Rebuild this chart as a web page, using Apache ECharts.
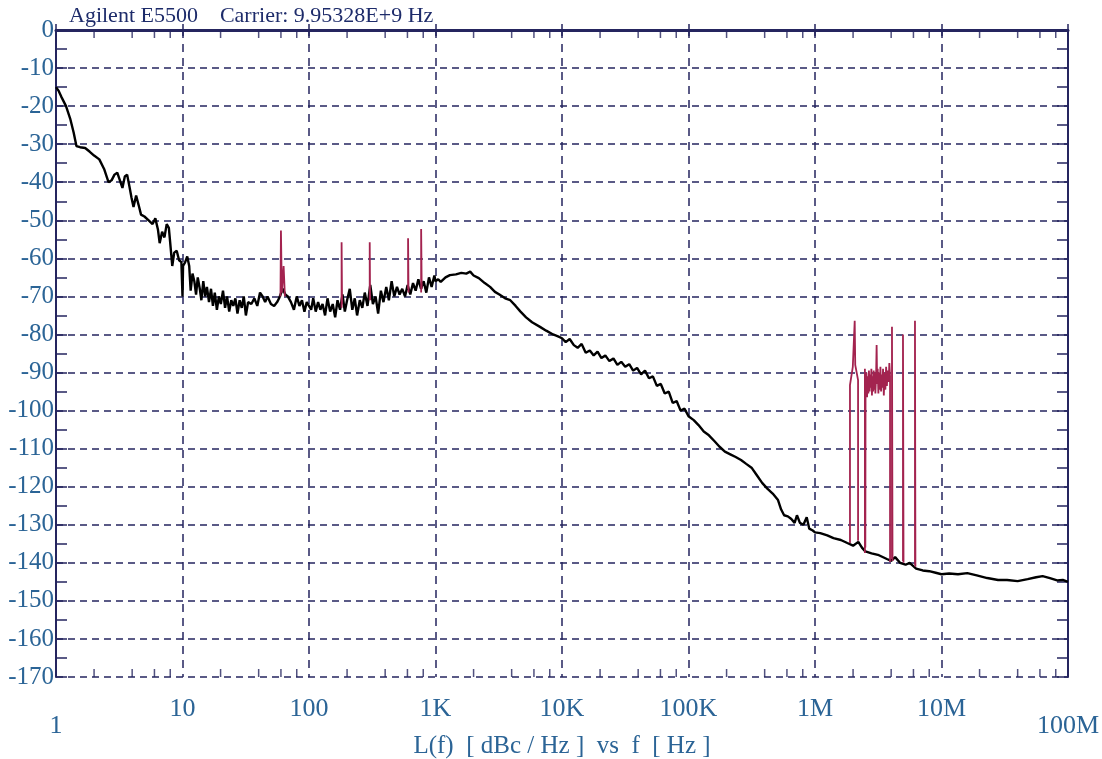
<!DOCTYPE html>
<html>
<head>
<meta charset="utf-8">
<title>Agilent E5500 phase noise</title>
<script src="https://cdn.jsdelivr.net/npm/echarts@6/dist/echarts.min.js"></script>
<style>
  html, body { margin: 0; padding: 0; background: #fff; }
  #chart { width: 1102px; height: 759px; }
</style>
</head>
<body>
<div id="chart"></div>
<script>
// tick labels for the log frequency axis (1 Hz ... 100 MHz)
const xTickLabels = ['1', '10', '100', '1K', '10K', '100K', '1M', '10M', '100M'];
const minorMantissa = [2, 4, 6, 8];

// measured phase noise, L(f) in dBc/Hz
const noiseFreqHz = [
  1, 1.05, 1.1, 1.2, 1.3, 1.38, 1.45, 1.55, 1.7, 1.85, 2.0, 2.2, 2.4, 2.6, 2.75, 2.9, 3.05, 3.2, 3.35, 3.5,
  3.65, 3.8, 3.95, 4.1, 4.3, 4.5, 4.7, 5.0, 5.4, 5.8, 6.1, 6.4, 6.6, 6.9, 7.2, 7.5, 7.8, 8.0, 8.3, 8.6,
  9.0, 9.4, 9.8, 10.0, 10.1, 10.5, 10.9, 11.3, 11.6, 12.0, 12.4, 12.8, 13.2, 13.7, 14.1, 14.6, 15.1, 15.6, 16.2, 16.8,
  17.4, 18.0, 18.7, 19.4, 20.1, 20.9, 21.7, 22.5, 23.4, 24.3, 25.2, 26.2, 27.2, 28.3, 29.4, 30.5, 31.7, 33, 35, 37,
  39, 41, 43, 45, 47, 50, 53, 56, 58, 62, 65, 68, 72, 76, 80, 84, 88, 92, 96, 100,
  104, 108, 113, 118, 123, 128, 134, 140, 147, 154, 161, 168, 176, 184, 192, 200, 210, 220, 230, 240,
  252, 264, 276, 290, 305, 320, 336, 352, 370, 388, 408, 428, 450, 472, 496, 520, 546, 574, 602, 632,
  664, 697, 732, 768, 806, 846, 888, 932, 980, 1000, 1050, 1100, 1200, 1300, 1450, 1600, 1750, 1880, 2000, 2200,
  2450, 2700, 2950, 3200, 3550, 3900, 4300, 4700, 5200, 5800, 6700, 7500, 8500, 9300, 10000, 10700, 11500, 12400, 13300, 14300,
  15400, 16600, 17800, 19100, 20500, 22000, 23700, 25500, 27400, 29400, 31600, 34000, 36500, 39200, 42200, 45300, 48700, 52300, 56200, 60400,
  64900, 69800, 75000, 80600, 86600, 93100, 100000, 110000, 120000, 132000, 145000, 160000, 176000, 194000, 214000, 236000, 260000, 286000, 315000, 347000,
  382000, 420000, 463000, 510000, 540000, 570000, 610000, 650000, 690000, 720000, 760000, 810000, 860000, 900000, 960000, 1000000, 1100000, 1250000, 1400000, 1600000,
  1800000, 2000000, 2200000, 2350000, 2500000, 2800000, 3200000, 3700000, 4000000, 4300000, 4700000, 5200000, 5600000, 6300000, 7100000, 8000000, 9000000, 10000000, 11500000, 13500000,
  16000000, 19000000, 23000000, 28000000, 33000000, 40000000, 48000000, 56000000, 63000000, 72000000, 82000000, 91000000, 100000000
];
const noiseDbc = [
  -15, -16, -17.5, -20, -23.5, -27, -30.5, -30.8, -31, -32, -33, -34, -36.5, -40, -39.5, -38, -37.5, -39.5, -41.5, -38.5,
  -38, -41, -44, -46.5, -43.5, -46, -48.5, -49, -50, -51, -49.5, -52.5, -56, -53, -54.5, -51, -52, -56, -62, -58.5,
  -58, -60.5, -61, -70, -62, -61, -59.5, -62, -68.5, -64, -66, -69.5, -65, -68, -71, -66, -70, -67.5, -71.5, -68,
  -72.5, -69, -73.5, -70, -72, -68.5, -73, -70, -74, -71, -72.5, -70.5, -74.5, -71, -73, -70, -75, -71.5, -72, -70.5,
  -72.5, -69, -70, -71.5, -70, -72, -72.5, -71.5, -70.5, -68, -69.5, -70, -71.5, -73.5, -70, -72.5, -71, -74, -71.5, -72.5,
  -73.5, -70.5, -74, -71.5, -73.5, -72, -75, -70.5, -74, -72, -75.5, -71, -73.5, -69.5, -74, -71, -68, -73.5, -70.5, -75,
  -71, -73, -69, -72.5, -67, -72, -70, -74.5, -68.5, -71.5, -67.5, -71, -66, -70, -67.5, -69.5, -68, -70, -67, -69.5,
  -66.5, -68.5, -65.5, -68, -66, -69, -65, -67.5, -64.5, -66, -65.5, -66.2, -65, -64.4, -64.2, -63.8, -64, -63.5, -64.5, -65.2,
  -66.5, -67.5, -68.8, -69.5, -70.5, -71, -72.5, -74, -75.5, -76.8, -78, -79, -80, -80.5, -81, -82, -81.2, -82.8, -83.5, -82.5,
  -84.8, -84.2, -85.5, -84.5, -86.2, -85.5, -87, -86.3, -88, -87.2, -88.5, -87.8, -89.5, -88.8, -90.5, -89.5, -91.5, -91, -93.5, -93,
  -95.5, -95, -98, -97.5, -100, -99.5, -101.5, -102.5, -103.8, -105.5, -106.5, -108, -109.5, -110.8, -111.5, -112.2, -113, -114, -115, -117,
  -119, -120.5, -121.8, -123.5, -126, -127.5, -127.8, -128.5, -129.5, -127.5, -129.5, -130, -128, -131, -131.5, -132, -132.2, -132.8, -133.5, -134,
  -134.8, -135.5, -134.5, -136, -137, -137.5, -138, -139, -139.5, -138.5, -140, -140.5, -140, -141.5, -142, -142.2, -142.6, -143, -142.8, -143,
  -142.7, -143.3, -144, -144.5, -144.5, -144.8, -144.3, -143.8, -143.5, -144, -144.6, -144.5, -145
];

// spurious lines, each group as [freq Hz, dBc] pairs
const spur60Hz = [[59.5, -70], [60, -52.7], [61, -69], [63, -62], [64.5, -70]];
const spur180Hz = [[181, -73], [181, -55.8], [182.5, -72]];
const spur300Hz = [[302, -71], [302, -55.8], [304, -71]];
const spur600Hz = [[607, -68], [607, -54.7], [612, -69]];
const spur770Hz = [[770, -69], [770, -52.3], [778, -68]];
const spur2MHz = [
  [1890000, -134.8], [1890000, -93.3], [1950000, -93], [1990000, -88.5], [2040000, -89], [2060000, -76.4],
  [2080000, -88], [2140000, -88.5], [2190000, -92], [2190000, -134.2]
];
const spurBand = [
  [2480000, -137.4], [2480000, -89], [2500000, -136], [2510000, -92], [2530000, -95], [2550000, -90],
  [2580000, -96.5], [2610000, -91], [2640000, -95.5], [2670000, -89.5], [2700000, -95], [2730000, -90.5],
  [2760000, -94], [2790000, -89], [2820000, -96], [2850000, -91], [2880000, -95], [2910000, -89.5],
  [2940000, -94.5], [2970000, -90], [3000000, -95.5], [3040000, -91], [3070000, -82.8], [3100000, -93],
  [3130000, -89], [3170000, -95.5], [3210000, -90], [3250000, -94.5], [3290000, -88.5], [3330000, -95],
  [3370000, -90.5], [3410000, -94], [3450000, -89], [3500000, -96], [3550000, -90], [3600000, -94.5],
  [3650000, -88.5], [3700000, -93.5], [3760000, -89.5], [3820000, -92.5], [3870000, -87.5], [3920000, -91],
  [3920000, -139.8]
];
const spur4MHz = [[4060000, -139], [4060000, -78], [4100000, -139.5]];
const spur5MHz = [[4960000, -139.5], [4960000, -80], [5010000, -140]];
const spur6MHz = [[6170000, -140.5], [6170000, -76.4], [6220000, -141]];
const spurGroups = [spur60Hz, spur180Hz, spur300Hz, spur600Hz, spur770Hz, spur2MHz, spurBand, spur4MHz, spur5MHz, spur6MHz];

const NAVY = '#25255f';
const LABEL_BLUE = '#2b6496';
const SERIF = '"Liberation Serif", "DejaVu Serif", serif';

const noiseData = noiseFreqHz.map((f, i) => [f, noiseDbc[i]]);

// log minor ticks at 2,4,6,8 of every decade
const minorBottom = [];
const minorTop = [];
for (let d = 0; d < 8; d++) {
  minorMantissa.forEach(m => {
    minorBottom.push([m * Math.pow(10, d), -170]);
    minorTop.push([m * Math.pow(10, d), 0]);
  });
}

const tickText = v => xTickLabels[Math.round(Math.log10(v))] || '';

const chart = echarts.init(document.getElementById('chart'));

const spurSeries = spurGroups.map(g => ({
  type: 'line',
  data: g,
  showSymbol: false,
  symbol: 'none',
  silent: true,
  lineStyle: { color: '#a3234f', width: 1.8 },
  z: 4
}));

const option = {
  animation: false,
  backgroundColor: '#ffffff',
  title: {
    text: 'Agilent E5500    Carrier: 9.95328E+9 Hz',
    left: 64,
    top: 0,
    textStyle: { fontFamily: SERIF, fontSize: 22, fontWeight: 'normal', color: '#1d2b6a' }
  },
  grid: { left: 56, right: 34, top: 30, bottom: 82, outerBoundsMode: 'none' },
  xAxis: [
    {
      type: 'log',
      logBase: 10,
      min: 1,
      max: 100000000,
      position: 'bottom',
      name: 'L(f)  [ dBc / Hz ]  vs  f  [ Hz ]',
      nameLocation: 'middle',
      nameGap: 57,
      nameTextStyle: { fontFamily: SERIF, fontSize: 25, color: LABEL_BLUE },
      axisLine: { lineStyle: { color: NAVY, width: 3 } },
      axisTick: { show: true, inside: true, length: 6, lineStyle: { color: NAVY, width: 1.5 } },
      axisLabel: {
        interval: 0,
        margin: 19,
        fontFamily: SERIF,
        fontSize: 26,
        color: LABEL_BLUE,
        formatter: v => {
          const i = Math.round(Math.log10(v));
          return (i === 0 || i === 8) ? '' : tickText(v);
        }
      },
      splitLine: { show: true, lineStyle: { color: NAVY, width: 1.5, type: [8, 6] } }
    },
    {
      type: 'log',
      logBase: 10,
      min: 1,
      max: 100000000,
      position: 'top',
      axisLine: { lineStyle: { color: NAVY, width: 2 } },
      axisTick: { show: true, inside: true, length: 6, lineStyle: { color: NAVY, width: 1.5 } },
      axisLabel: { show: false },
      splitLine: { show: false }
    },
    {
      type: 'log',
      logBase: 10,
      min: 1,
      max: 100000000,
      position: 'bottom',
      axisLine: { show: false },
      axisTick: { show: false },
      splitLine: { show: false },
      axisLabel: {
        interval: 0,
        showMinLabel: true,
        showMaxLabel: true,
        margin: 36,
        fontFamily: SERIF,
        fontSize: 26,
        color: LABEL_BLUE,
        formatter: v => {
          const i = Math.round(Math.log10(v));
          return (i === 0 || i === 8) ? tickText(v) : '';
        }
      }
    }
  ],
  yAxis: [
    {
      type: 'value',
      min: -170,
      max: 0,
      interval: 10,
      position: 'left',
      axisLine: { show: true, lineStyle: { color: NAVY, width: 2 } },
      axisTick: { show: true, inside: true, length: 11, lineStyle: { color: NAVY, width: 1.5 } },
      minorTick: { show: true, splitNumber: 2, length: 11, lineStyle: { color: NAVY, width: 1.5 } },
      axisLabel: { margin: 2, fontFamily: SERIF, fontSize: 25, color: LABEL_BLUE },
      splitLine: { show: true, lineStyle: { color: NAVY, width: 1.5, type: [7, 5] } }
    },
    {
      type: 'value',
      min: -170,
      max: 0,
      interval: 10,
      position: 'right',
      axisLine: { show: true, lineStyle: { color: NAVY, width: 2 } },
      axisTick: { show: true, inside: true, length: 11, lineStyle: { color: NAVY, width: 1.5 } },
      minorTick: { show: true, splitNumber: 2, length: 11, lineStyle: { color: NAVY, width: 1.5 } },
      axisLabel: { show: false },
      splitLine: { show: false }
    }
  ],
  series: [
    {
      type: 'line',
      data: noiseData,
      showSymbol: false,
      symbol: 'none',
      silent: true,
      lineStyle: { color: '#000000', width: 2.4 },
      z: 3
    },
    ...spurSeries,
    {
      type: 'scatter',
      data: minorBottom,
      symbol: 'rect',
      symbolSize: [1.5, 8],
      symbolOffset: [0, -4],
      itemStyle: { color: NAVY },
      silent: true,
      clip: false,
      z: 5
    },
    {
      type: 'scatter',
      data: minorTop,
      symbol: 'rect',
      symbolSize: [1.5, 8],
      symbolOffset: [0, 4],
      itemStyle: { color: NAVY },
      silent: true,
      clip: false,
      z: 5
    }
  ]
};

chart.setOption(option);
</script>
</body>
</html>
